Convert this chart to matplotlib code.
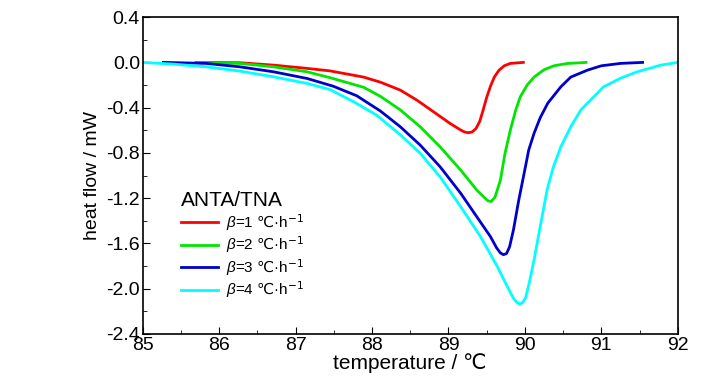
import matplotlib
matplotlib.use("Agg")
import matplotlib.pyplot as plt
from matplotlib.ticker import MultipleLocator

plt.rcParams['font.family'] = ['Liberation Sans', 'DejaVu Sans']
plt.rcParams['mathtext.fontset'] = 'custom'
plt.rcParams['mathtext.rm'] = 'DejaVu Sans'
plt.rcParams['mathtext.it'] = 'Liberation Sans:italic'

# beta = 1
red_x = [85.7, 86.27, 86.71, 87.15, 87.45, 87.89, 88.11, 88.37, 88.59, 88.78, 89.02, 89.16, 89.21, 89.26,
         89.31, 89.36, 89.41, 89.45, 89.5, 89.55, 89.6, 89.66, 89.73, 89.81, 89.98]
red_y = [0.0, -0.003, -0.024, -0.053, -0.075, -0.13, -0.175, -0.245, -0.335, -0.425, -0.539, -0.598, -0.615, -0.622,
         -0.615, -0.585, -0.52, -0.43, -0.31, -0.21, -0.13, -0.07, -0.03, -0.009, 0.0]
# beta = 2
green_x = [85.7, 86.27, 86.71, 87.15, 87.45, 87.89, 88.11, 88.37, 88.63, 88.89, 89.16, 89.37, 89.48,
           89.52, 89.56, 89.61, 89.68, 89.74, 89.81, 89.88, 89.94, 90.03, 90.12, 90.25, 90.38, 90.55, 90.8]
green_y = [0.0, -0.009, -0.039, -0.083, -0.135, -0.22, -0.30, -0.42, -0.569, -0.746, -0.952, -1.128, -1.202,
           -1.225, -1.23, -1.19, -1.04, -0.804, -0.598, -0.422, -0.304, -0.2, -0.13, -0.065, -0.03, -0.01, 0.0]
# beta = 3
blue_x = [85.27, 85.83, 86.27, 86.71, 87.15, 87.49, 87.8, 88.11, 88.37, 88.63, 88.89, 89.16, 89.37,
          89.55, 89.63, 89.68, 89.72, 89.76, 89.8, 89.85, 89.92, 89.99, 90.05, 90.12, 90.2, 90.3, 90.47,
          90.6, 90.82, 91.0, 91.25, 91.54]
blue_y = [0.0, -0.009, -0.039, -0.083, -0.142, -0.21, -0.295, -0.43, -0.569, -0.731, -0.922, -1.157, -1.364,
          -1.541, -1.64, -1.685, -1.70, -1.69, -1.63, -1.482, -1.217, -0.981, -0.775, -0.627, -0.49, -0.36,
          -0.216, -0.13, -0.068, -0.03, -0.009, 0.0]
# beta = 4
cyan_x = [85.0, 85.4, 85.83, 86.27, 86.71, 87.15, 87.45, 87.76, 88.06, 88.37, 88.63, 88.89, 89.16,
          89.42, 89.64, 89.77, 89.85, 89.89, 89.93, 89.97, 90.01, 90.06, 90.12, 90.2, 90.29, 90.37,
          90.47, 90.6, 90.73, 91.03, 91.25, 91.47, 91.78, 92.0]
cyan_y = [0.0, -0.015, -0.039, -0.077, -0.127, -0.186, -0.24, -0.348, -0.466, -0.64, -0.804, -1.011, -1.276,
          -1.541, -1.806, -1.982, -2.085, -2.12, -2.135, -2.125, -2.08, -1.94, -1.747, -1.452, -1.128, -0.93,
          -0.746, -0.57, -0.422, -0.216, -0.14, -0.083, -0.024, 0.0]

series = [(red_x, red_y, '#ff0000', '1'), (green_x, green_y, '#00e600', '2'),
          (blue_x, blue_y, '#0000cc', '3'), (cyan_x, cyan_y, '#00ffff', '4')]

fig = plt.figure(figsize=(7.28, 3.9), dpi=100)
ax = fig.add_axes([0.196, 0.144, 0.735, 0.812])

for x, y, c, b in series:
    ax.plot(x, y, color=c, lw=2.0, label=r'$\beta$=' + b + r' $\mathrm{℃}$·h$^{-1}$')

ax.set_xlim(85, 92)
ax.set_ylim(-2.4, 0.4)
ax.xaxis.set_major_locator(MultipleLocator(1))
ax.xaxis.set_minor_locator(MultipleLocator(0.5))
ax.yaxis.set_major_locator(MultipleLocator(0.4))
ax.yaxis.set_minor_locator(MultipleLocator(0.2))
ax.yaxis.set_major_formatter(plt.FuncFormatter(lambda v, p: '%.1f' % v))
ax.tick_params(which='both', direction='in', top=False, right=False, labelsize=14, pad=2)
ax.tick_params(which='major', length=5)
ax.tick_params(which='minor', length=3)
for s in ax.spines.values():
    s.set_linewidth(1.2)

ax.set_xlabel('temperature / ℃', fontsize=15, labelpad=0)
ax.set_ylabel('heat flow / mW', fontsize=14, labelpad=4)

leg = ax.legend(loc='upper left', bbox_to_anchor=(0.055, 0.48), frameon=False,
                title='ANTA/TNA', fontsize=11, title_fontsize=15, alignment='left',
                handlelength=2.4, handletextpad=0.5, labelspacing=0.1, borderpad=0.1)

fig.savefig('out.png', dpi=100)
